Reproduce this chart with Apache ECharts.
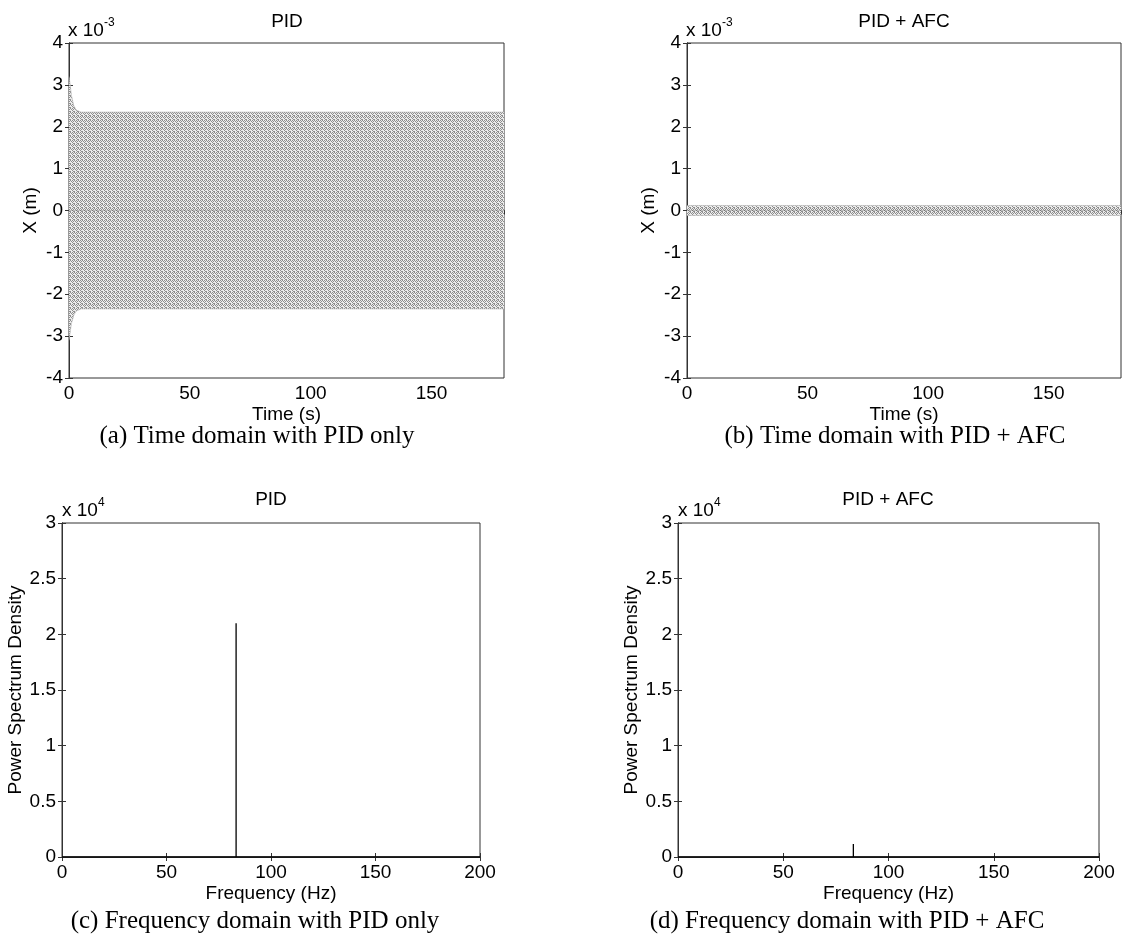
<!DOCTYPE html>
<html>
<head>
<meta charset="utf-8">
<script src="https://cdn.jsdelivr.net/npm/echarts@6/dist/echarts.min.js"></script>
<style>
html,body{margin:0;padding:0;background:#fff;}
#chart{width:1143px;height:935px;}
</style>
</head>
<body>
<div id="chart"></div>
<script>
// ---- data (time-domain values are in units of 1e-3 m, PSD in raw units) ----
// envelope of the dense oscillation
const timeA = [0, 0.5, 1, 2, 3, 5, 180];
const upperA = [3.2, 3.0, 2.75, 2.5, 2.4, 2.35, 2.35];
const lowerA = [-3.1, -2.9, -2.7, -2.5, -2.4, -2.35, -2.35];

const timeB = [0, 180];
const upperB = [0.12, 0.12];
const lowerB = [-0.12, -0.12];

const freqC = [0, 83.3, 83.3, 83.3, 200];
const psdC = [0, 0, 21000, 0, 0];

const freqD = [0, 83.3, 83.3, 83.3, 200];
const psdD = [0, 0, 1170, 0, 0];

const timeTicks = [0, 50, 100, 150];
const freqTicks = [0, 50, 100, 150, 200];

const plotTitles = ['PID', 'PID + AFC', 'PID', 'PID + AFC'];
const captions = ['(a) Time domain with PID only', '(b) Time domain with PID + AFC',
                  '(c) Frequency domain with PID only', '(d) Frequency domain with PID + AFC'];

// ---- styling ----
const SANS = 'Liberation Sans, Arial, sans-serif';
const SERIF = 'Liberation Serif, Times New Roman, serif';
const FS = 19;

function makePattern() {
  const c = document.createElement('canvas');
  c.width = 4; c.height = 4;
  const g = c.getContext('2d');
  g.fillStyle = '#ececec'; g.fillRect(0, 0, 4, 4);
  g.fillStyle = '#8e8e8e';
  g.fillRect(0, 0, 1, 1); g.fillRect(2, 0, 1, 1);
  g.fillRect(1, 1, 1, 1); g.fillRect(3, 1, 1, 1);
  g.fillRect(0, 2, 1, 1);
  g.fillRect(1, 3, 1, 1); g.fillRect(2, 3, 1, 1);
  return c;
}
const pattern = {image: makePattern(), repeat: 'repeat'};

const grids = [
  {left: 69, top: 43, width: 435, height: 335},
  {left: 687, top: 43, width: 434, height: 335},
  {left: 62, top: 523, width: 418, height: 334},
  {left: 678, top: 523, width: 421, height: 334}
];

const xCfg = [
  {min: 0, max: 180, interval: 50, name: 'Time (s)'},
  {min: 0, max: 180, interval: 50, name: 'Time (s)'},
  {min: 0, max: 200, interval: 50, name: 'Frequency (Hz)'},
  {min: 0, max: 200, interval: 50, name: 'Frequency (Hz)'}
];
const yCfg = [
  {min: -4, max: 4, interval: 1, name: 'X (m)', gap: 29, fmt: v => String(Math.round(v))},
  {min: -4, max: 4, interval: 1, name: 'X (m)', gap: 29, fmt: v => String(Math.round(v))},
  {min: 0, max: 30000, interval: 5000, name: 'Power Spectrum Density', gap: 34, fmt: v => String(v / 10000)},
  {min: 0, max: 30000, interval: 5000, name: 'Power Spectrum Density', gap: 34, fmt: v => String(v / 10000)}
];

const axisLine = {show: true, lineStyle: {color: '#333', width: 1}};
const tick = {show: true, inside: true, length: 4, lineStyle: {color: '#333'}};

const xAxes = [], yAxes = [];
grids.forEach((g, i) => {
  const xc = xCfg[i], yc = yCfg[i];
  xAxes.push({
    type: 'value', gridIndex: i, position: 'bottom', min: xc.min, max: xc.max, interval: xc.interval,
    axisLine, axisTick: tick, splitLine: {show: false},
    axisLabel: {color: '#000', fontFamily: SANS, fontSize: FS, margin: 6, showMaxLabel: xc.max === 200},
    name: xc.name, nameLocation: 'middle', nameGap: 27,
    nameTextStyle: {color: '#000', fontFamily: SANS, fontSize: FS}
  });
  xAxes.push({
    type: 'value', gridIndex: i, position: 'top', min: xc.min, max: xc.max, interval: xc.interval,
    axisLine, axisTick: tick, splitLine: {show: false}, axisLabel: {show: false}
  });
  yAxes.push({
    type: 'value', gridIndex: i, position: 'left', min: yc.min, max: yc.max, interval: yc.interval,
    axisLine, axisTick: tick, splitLine: {show: false},
    axisLabel: {color: '#000', fontFamily: SANS, fontSize: FS, margin: 6, formatter: yc.fmt},
    name: yc.name, nameLocation: 'middle', nameGap: yc.gap,
    nameTextStyle: {color: '#000', fontFamily: SANS, fontSize: FS}
  });
  yAxes.push({
    type: 'value', gridIndex: i, position: 'right', min: yc.min, max: yc.max, interval: yc.interval,
    axisLine, axisTick: tick, splitLine: {show: false}, axisLabel: {show: false}
  });
});

function zip(a, b) { return a.map((v, k) => [v, b[k]]); }

function bandSeries(i, xs, ys) {
  return {
    type: 'line', xAxisIndex: 2 * i, yAxisIndex: 2 * i, data: zip(xs, ys),
    showSymbol: false, silent: true, z: 1,
    lineStyle: {color: '#b0b0b0', width: 0.6},
    areaStyle: {color: pattern, opacity: 1}
  };
}
function psdSeries(i, xs, ys) {
  return {
    type: 'line', xAxisIndex: 2 * i, yAxisIndex: 2 * i, data: zip(xs, ys),
    showSymbol: false, silent: true, z: 5,
    lineStyle: {color: '#000', width: 1.3}
  };
}

const series = [
  bandSeries(0, timeA, upperA), bandSeries(0, timeA, lowerA),
  bandSeries(1, timeB, upperB), bandSeries(1, timeB, lowerB),
  psdSeries(2, freqC, psdC), psdSeries(3, freqD, psdD)
];

// text elements
const titlePos = [[287, 22], [904, 22], [271, 500], [888, 500]];
const expPos = [[68, 31, '-3'], [686, 31, '-3'], [62, 511, '4'], [678, 511, '4']];
const capPos = [[257, 436], [895, 436], [255, 921], [847, 921]];
const graphics = [];
grids.forEach((g, i) => {
  graphics.push({type: 'text', x: titlePos[i][0], y: titlePos[i][1],
    style: {text: plotTitles[i], fill: '#000', font: FS + 'px ' + SANS, textAlign: 'center', textVerticalAlign: 'middle'}});
  graphics.push({type: 'text', x: expPos[i][0], y: expPos[i][1],
    style: {text: '{b|x 10}{s|' + expPos[i][2] + '}', textVerticalAlign: 'middle',
      rich: {b: {fontFamily: SANS, fontSize: FS, fill: '#000', color: '#000'},
             s: {fontFamily: SANS, fontSize: 12, color: '#000', verticalAlign: 'top', padding: [0, 0, 16, 0]}}}});
  graphics.push({type: 'text', x: capPos[i][0], y: capPos[i][1],
    style: {text: captions[i], fill: '#000', font: '25px ' + SERIF, textAlign: 'center', textVerticalAlign: 'middle'}});
});

const chart = echarts.init(document.getElementById('chart'), null, {renderer: 'canvas'});
chart.setOption({
  animation: false,
  backgroundColor: '#fff',
  grid: grids.map(g => Object.assign({show: true, borderColor: '#333', borderWidth: 1, backgroundColor: '#fff'}, g)),
  xAxis: xAxes,
  yAxis: yAxes,
  series,
  graphic: graphics
});
</script>
</body>
</html>
